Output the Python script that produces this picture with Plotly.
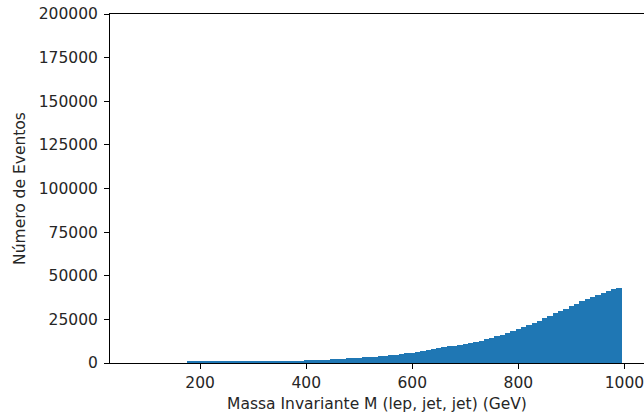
import plotly.graph_objects as go

# Histogram of the reconstructed invariant mass M(lep, jet, jet), 10 GeV bins
bin_width = 10
bin_centers = list(range(180, 1000, bin_width))
event_counts = [
    950, 980, 1000, 1000, 1020, 1030, 1050, 1060, 1080, 1090,
    1100, 1120, 1140, 1150, 1170, 1180, 1200, 1210, 1230, 1250,
    1270, 1290, 1700, 1750, 1800, 1850, 1900, 2050, 2200, 2450,
    2650, 2800, 3000, 3200, 3400, 3650, 3900, 4200, 4500, 4850,
    5200, 5550, 6000, 6500, 6950, 7400, 7900, 8400, 9000, 9600,
    10000, 10400, 10800, 11200, 11900, 12700, 13600, 14500, 15300, 16300,
    17300, 18300, 19300, 20400, 21600, 22900, 24200, 25600, 27000, 28400,
    29800, 31200, 32700, 34000, 35300, 36700, 37900, 39200, 40400, 41400,
    42400, 42700,
]

x_ticks = [200, 400, 600, 800, 1000]
y_ticks = list(range(0, 200001, 25000))

font_family = "DejaVu Sans"
text_color = "#262626"
label_size = 15.5

fig = go.Figure(
    go.Bar(
        x=bin_centers,
        y=event_counts,
        width=bin_width,
        marker=dict(color="#1f77b4", line=dict(width=0)),
        hoverinfo="x+y",
    )
)

fig.update_layout(
    width=644,
    height=419,
    margin=dict(l=110, r=0, t=14, b=56),
    paper_bgcolor="white",
    plot_bgcolor="white",
    bargap=0,
    showlegend=False,
    font=dict(family=font_family, size=label_size, color=text_color),
)

fig.update_xaxes(
    range=[30, 1037],
    tickvals=x_ticks,
    ticktext=[str(v) for v in x_ticks],
    ticks="outside",
    ticklen=5,
    tickcolor="black",
    ticklabeloverflow="allow",
    showline=True,
    linecolor="black",
    linewidth=1,
    mirror=True,
    showgrid=False,
    zeroline=False,
    tickfont=dict(size=label_size),
    title=dict(text="Massa Invariante M (lep, jet, jet) (GeV)", standoff=7,
               font=dict(size=label_size)),
)

fig.update_yaxes(
    range=[0, 200000],
    tickvals=y_ticks,
    ticktext=[str(v) for v in y_ticks],
    ticks="outside",
    ticklen=5,
    tickcolor="black",
    ticklabelstandoff=3,
    showline=True,
    linecolor="black",
    linewidth=1,
    showgrid=False,
    zeroline=False,
    tickfont=dict(size=label_size),
    title=dict(text="Número de Eventos", standoff=9, font=dict(size=label_size)),
)

fig.write_html("out.html")
